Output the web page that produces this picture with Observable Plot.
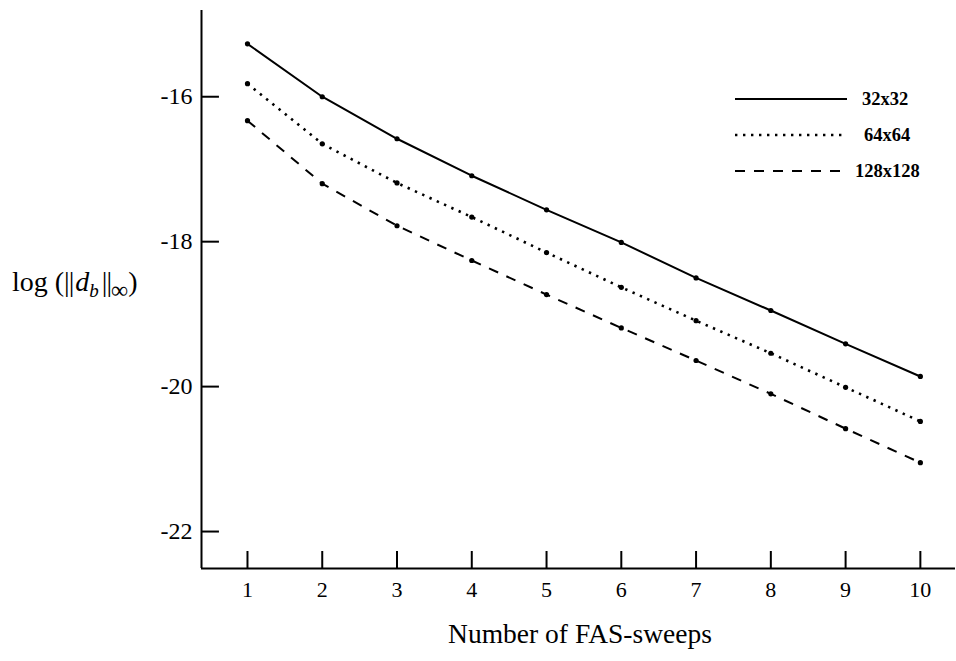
<!DOCTYPE html>
<html>
<head>
<meta charset="utf-8">
<script src="https://cdn.jsdelivr.net/npm/d3@7"></script>
<script src="https://cdn.jsdelivr.net/npm/@observablehq/plot@0.6"></script>
<style>
  html, body { margin: 0; padding: 0; background: #fff; }
  #chart svg { display: block; }
</style>
</head>
<body>
<div id="chart"></div>
<script>
// ---- data ----
const sweeps = [1, 2, 3, 4, 5, 6, 7, 8, 9, 10];
const grid32 = [-15.27, -16.00, -16.58, -17.09, -17.56, -18.01, -18.50, -18.95, -19.41, -19.86];
const grid64 = [-15.82, -16.65, -17.19, -17.66, -18.15, -18.63, -19.09, -19.54, -20.01, -20.48];
const grid128 = [-16.33, -17.20, -17.78, -18.26, -18.73, -19.19, -19.64, -20.10, -20.58, -21.05];
const seriesNames = ["32x32", "64x64", "128x128"];
const xTicks = [1, 2, 3, 4, 5, 6, 7, 8, 9, 10];
const yTicks = [-16, -18, -20, -22];
const xLabel = "Number of FAS-sweeps";

// ---- build table ----
const seriesValues = [grid32, grid64, grid128];
const rows = [];
seriesNames.forEach((name, i) => {
  sweeps.forEach((s, j) => rows.push({series: name, x: s, y: seriesValues[i][j]}));
});
const styles = {
  "32x32": {strokeWidth: 2, strokeDasharray: null},
  "64x64": {strokeWidth: 2.6, strokeDasharray: "2.4 5.6"},
  "128x128": {strokeWidth: 2, strokeDasharray: "10 9"}
};

const xDom = [0.385, 10.47];
const yDom = [-22.51, -14.81];
const font = "'Liberation Serif', 'Times New Roman', serif";

const marks = [];
seriesNames.forEach(name => {
  marks.push(Plot.line(rows.filter(r => r.series === name), {
    x: "x", y: "y", stroke: "#000",
    strokeWidth: styles[name].strokeWidth,
    strokeDasharray: styles[name].strokeDasharray,
    strokeLinecap: "butt"
  }));
});
marks.push(Plot.dot(rows, {x: "x", y: "y", r: 2.6, fill: "#000", stroke: "none"}));
// axis lines
marks.push(Plot.ruleX([xDom[0]], {stroke: "#000", strokeWidth: 2}));
marks.push(Plot.ruleY([yDom[0]], {stroke: "#000", strokeWidth: 2}));
// inward ticks
marks.push(Plot.ruleX(xTicks, {x: d => d, y1: yDom[0], y2: yDom[0] + 0.235, stroke: "#000", strokeWidth: 2}));
marks.push(Plot.ruleY(yTicks, {y: d => d, x1: xDom[0], x2: xDom[0] + 0.24, stroke: "#000", strokeWidth: 2}));
marks.push(Plot.axisX({ticks: xTicks, tickSize: 0, tickPadding: 13, fontSize: 22, label: null, tickFormat: d => String(d)}));
marks.push(Plot.axisY({ticks: yTicks, tickSize: 0, tickPadding: 9, fontSize: 24, label: null, tickFormat: d => String(d)}));

const chart = Plot.plot({
  width: 956,
  height: 661,
  marginTop: 10,
  marginLeft: 201,
  marginRight: 1,
  marginBottom: 93,
  x: {domain: xDom},
  y: {domain: yDom},
  style: {fontFamily: font, color: "#000", background: "#fff", overflow: "visible"},
  marks
});
document.getElementById("chart").appendChild(chart);

// ---- labels and legend ----
const svg = d3.select(chart);
svg.append("text")
  .attr("x", 580).attr("y", 643)
  .attr("text-anchor", "middle")
  .attr("font-family", font).attr("font-size", 27.5)
  .attr("fill", "#000")
  .text(xLabel);

const yl = svg.append("text")
  .attr("x", 12).attr("y", 291)
  .attr("text-anchor", "start")
  .attr("font-family", font).attr("font-size", 28)
  .attr("fill", "#000");
yl.append("tspan").text("log (");
yl.append("tspan").attr("letter-spacing", -1).text("||");
yl.append("tspan").attr("font-style", "italic").attr("dx", 2).text("d");
yl.append("tspan").attr("font-size", 19).attr("font-style", "italic").attr("dy", 6).text("b");
yl.append("tspan").attr("letter-spacing", -1).attr("dx", 3).attr("dy", -6).text("||");
yl.append("tspan").attr("font-size", 24).attr("dy", 7).text("\u221E");
yl.append("tspan").attr("dy", -7).text(")");

const legendY = [99, 135, 171];
const legendTextX = [862, 864, 855];
seriesNames.forEach((name, i) => {
  const s = styles[name];
  svg.append("line")
    .attr("x1", 735).attr("x2", 847)
    .attr("y1", legendY[i]).attr("y2", legendY[i])
    .attr("stroke", "#000")
    .attr("stroke-width", s.strokeWidth)
    .attr("stroke-dasharray", s.strokeDasharray);
  svg.append("text")
    .attr("x", legendTextX[i]).attr("y", legendY[i] + 6)
    .attr("text-anchor", "start")
    .attr("font-family", font).attr("font-size", 18.5).attr("font-weight", "bold")
    .attr("fill", "#000")
    .text(name);
});
</script>
</body>
</html>
